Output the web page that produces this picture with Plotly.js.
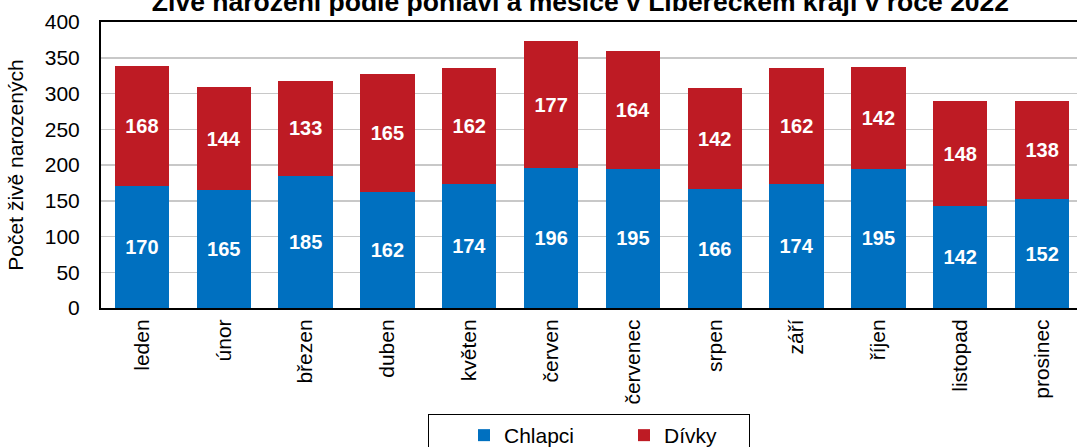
<!DOCTYPE html>
<html>
<head>
<meta charset="utf-8">
<script src="https://cdn.plot.ly/plotly-3.0.1.min.js"></script>
<style>
  html, body { margin: 0; padding: 0; overflow: hidden; background: #fff; }
  #graf { width: 1085px; height: 447px; }
</style>
</head>
<body>
<div id="graf"></div>
<script>
// Živě narození podle pohlaví a měsíce, Liberecký kraj
const mesice = ['leden', 'únor', 'březen', 'duben', 'květen', 'červen',
    'červenec', 'srpen', 'září', 'říjen', 'listopad', 'prosinec'];
const chlapci = [170, 165, 185, 162, 174, 196, 195, 166, 174, 195, 142, 152];
const divky = [168, 144, 133, 165, 162, 177, 164, 142, 162, 142, 148, 138];
const yTicky = [0, 50, 100, 150, 200, 250, 300, 350, 400];

const pismo = 'Liberation Sans, Arial, sans-serif';

function stopa(hodnoty, nazev, barva) {
    return {
        x: mesice,
        y: hodnoty,
        type: 'bar',
        name: nazev,
        marker: { color: barva },
        text: hodnoty.map(String),
        textposition: 'inside',
        insidetextanchor: 'middle',
        textangle: 0,
        textfont: { family: pismo, size: 20, color: '#ffffff', weight: 'bold' },
        hoverinfo: 'none'
    };
}

const layout = {
    width: 1085,
    height: 447,
    margin: { l: 101, r: 0, t: 22, b: 139 },
    paper_bgcolor: '#ffffff',
    plot_bgcolor: '#ffffff',
    barmode: 'stack',
    bargap: 0.335,
    font: { family: pismo, size: 21, color: '#000000' },
    title: {
        text: '<b>Živě narození podle pohlaví a měsíce v Libereckém kraji v roce 2022</b>',
        font: { family: pismo, size: 26.5, color: '#000000' },
        x: 0.535,
        xanchor: 'center',
        yref: 'container',
        y: 0.996,
        yanchor: 'middle'
    },
    xaxis: {
        type: 'category',
        tickangle: -90,
        tickfont: { family: pismo, size: 21 },
        showline: true,
        linecolor: '#000000',
        linewidth: 2,
        mirror: true,
        ticks: '',
        ticklabelstandoff: 1,
        showgrid: false,
        automargin: false
    },
    yaxis: {
        range: [0, 400],
        tickvals: yTicky,
        tickfont: { family: pismo, size: 21 },
        showline: true,
        linecolor: '#000000',
        linewidth: 2,
        mirror: true,
        ticks: '',
        ticklabelstandoff: 15,
        showgrid: true,
        gridcolor: '#C8C8C8',
        gridwidth: 1.5,
        zeroline: false,
        automargin: true,
        title: {
            text: 'Počet živě narozených',
            font: { family: pismo, size: 21 },
            standoff: 15
        }
    },
    showlegend: true,
    legend: {
        orientation: 'h',
        xref: 'container',
        x: 589 / 1085,
        xanchor: 'center',
        yref: 'container',
        y: 1 - 414 / 447,
        yanchor: 'top',
        bordercolor: '#000000',
        borderwidth: 1,
        indentation: 35,
        entrywidth: 80,
        font: { family: pismo, size: 21 },
        traceorder: 'normal'
    }
};

Plotly.newPlot('graf', [
    stopa(chlapci, 'Chlapci', '#0070C0'),
    stopa(divky, 'Dívky', '#BE1B24')
], layout, { displayModeBar: false, staticPlot: true });
</script>
</body>
</html>
